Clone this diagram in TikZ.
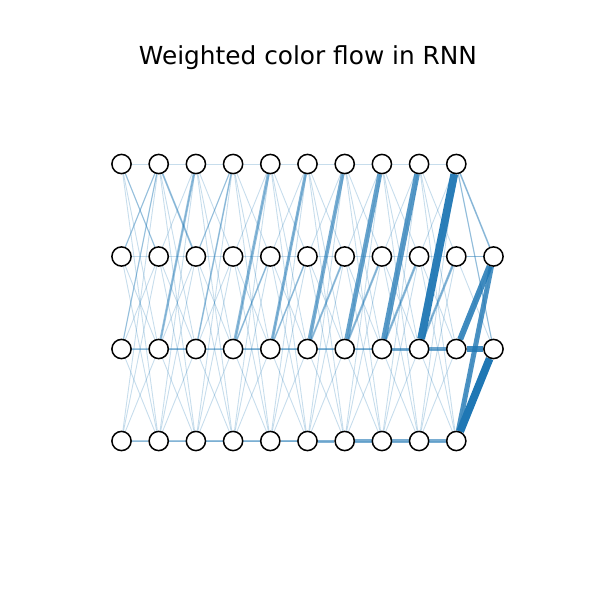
\documentclass[tikz,border=0pt]{standalone}
\usepackage{fontspec}
\setmainfont{DejaVu Sans}
\usetikzlibrary{backgrounds}
\definecolor{tabblue}{HTML}{1F77B4}
\begin{document}
\begin{tikzpicture}[x=0.5pt,y=-0.5pt,
  nd/.style={circle,draw=black,fill=white,line width=0.75pt,minimum size=9.6pt,inner sep=0pt},
  thinedge/.style={draw=tabblue,line width=0.45pt,draw opacity=0.25},
  ed/.style 2 args={draw=tabblue,line width=#1pt,draw opacity=#2}]
\useasboundingbox (0,0) rectangle (600,600);
\node[font=\fontsize{12.4}{14}\selectfont] (title) at (308,58) {Weighted color flow in RNN};
% nodes
\foreach \c/\x in {1/121.5,2/158.7,3/195.9,4/233.1,5/270.3,6/307.5,7/344.7,8/381.9,9/419.1,10/456.3}{
  \foreach \r/\y in {1/164,2/256.5,3/349,4/441}{
    \node[nd] (n\c-\r) at (\x,\y) {};
  }
}
\node[nd] (n11-2) at (493.5,256.5) {};
\node[nd] (n11-3) at (493.5,349) {};
\begin{pgfonlayer}{background}
% all connections between adjacent columns
\foreach \c in {1,...,9}{
  \pgfmathtruncatemacro\d{\c+1}
  \foreach \a in {1,...,4}{
    \foreach \b in {1,...,4}{
      \draw[thinedge] (n\c-\a) -- (n\d-\b);
    }
  }
}
\foreach \a in {1,...,4}{
  \foreach \b in {2,3}{
    \draw[thinedge] (n10-\a) -- (n11-\b);
  }
}
% weighted connections
\foreach \a/\b/\w/\o in {
  1-3/2-3/0.6/0.35, 2-3/3-3/0.9/0.45, 3-3/4-3/0.6/0.35, 4-3/5-3/1.0/0.45,
  5-3/6-3/1.0/0.45, 6-3/7-3/1.1/0.5, 7-3/8-3/1.2/0.5, 8-3/9-3/1.5/0.6,
  9-3/10-3/1.6/0.65, 10-3/11-3/2.6/0.85,
  1-4/2-4/0.6/0.35, 2-4/3-4/0.7/0.4, 3-4/4-4/0.9/0.45, 4-4/5-4/1.0/0.45,
  5-4/6-4/1.2/0.5, 6-4/7-4/1.5/0.55, 7-4/8-4/1.6/0.6, 8-4/9-4/1.7/0.6,
  9-4/10-4/1.6/0.6,
  1-1/2-2/0.6/0.3, 1-3/2-1/0.6/0.3, 1-2/2-1/0.6/0.3,
  2-1/3-2/0.9/0.4, 2-3/3-1/1.2/0.45,
  3-3/4-1/0.8/0.38, 3-2/4-1/0.6/0.3,
  4-3/5-1/1.5/0.5, 4-3/5-2/0.8/0.38,
  5-3/6-1/1.5/0.55, 5-3/6-2/0.8/0.38,
  6-3/7-1/1.9/0.6, 6-3/7-2/1.0/0.42,
  7-3/8-1/2.4/0.68, 7-3/8-2/1.1/0.45,
  8-3/9-1/2.8/0.75, 8-3/9-2/1.2/0.48,
  9-3/10-1/3.9/0.95, 9-3/10-2/1.2/0.5,
  10-3/11-2/3.0/0.85, 10-4/11-2/2.5/0.8, 10-4/11-3/3.9/1.0,
  10-1/11-2/0.8/0.4, 10-1/11-3/0.6/0.32, 10-2/11-2/0.6/0.35}{
  \draw[ed={\w}{\o}] (n\a) -- (n\b);
}
\end{pgfonlayer}
\end{tikzpicture}
\end{document}
